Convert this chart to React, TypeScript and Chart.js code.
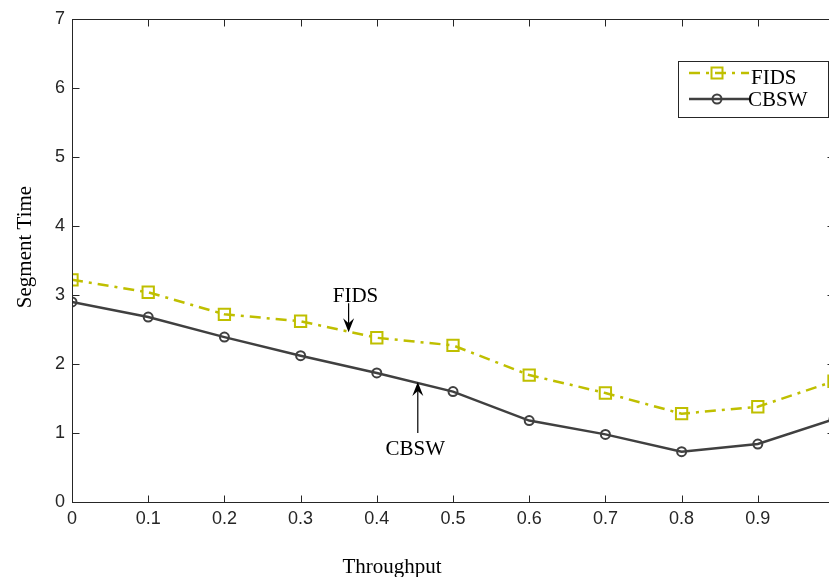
import React, { useEffect, useRef } from "react";
import { Chart, registerables } from "chart.js";

Chart.register(...registerables);

// ---- data ----
const throughput = [0, 0.1, 0.2, 0.3, 0.4, 0.5, 0.6, 0.7, 0.8, 0.9, 1.0];
const fidsTime = [3.22, 3.04, 2.72, 2.62, 2.38, 2.27, 1.84, 1.58, 1.28, 1.38, 1.75];
const cbswTime = [2.9, 2.68, 2.39, 2.12, 1.87, 1.6, 1.18, 0.98, 0.73, 0.84, 1.2];
const seriesLabels = ["FIDS", "CBSW"];
const xTitle = "Throughput";
const yTitle = "Segment Time";

const FIDS_COLOR = "#bfbf00";
const CBSW_COLOR = "#404040";
const AXIS_COLOR = "#262626";
const FIDS_DASH = [11, 6, 3, 6];

const serif = "'Liberation Serif', 'Times New Roman', serif";
const sans = "'Liberation Sans', Arial, sans-serif";

function drawArrow(ctx: CanvasRenderingContext2D, x: number, y0: number, y1: number) {
  const dir = y1 > y0 ? 1 : -1;
  const headLen = 14;
  const notch = 9;
  const half = 5.5;
  ctx.save();
  ctx.strokeStyle = "#000";
  ctx.fillStyle = "#000";
  ctx.lineWidth = 1.2;
  ctx.beginPath();
  ctx.moveTo(x, y0);
  ctx.lineTo(x, y1 - dir * notch);
  ctx.stroke();
  ctx.beginPath();
  ctx.moveTo(x, y1);
  ctx.lineTo(x - half, y1 - dir * headLen);
  ctx.lineTo(x, y1 - dir * notch);
  ctx.lineTo(x + half, y1 - dir * headLen);
  ctx.closePath();
  ctx.fill();
  ctx.restore();
}

const decorPlugin = {
  id: "decor",
  afterDatasetsDraw(chart: any) {
    const ctx: CanvasRenderingContext2D = chart.ctx;
    const { left, right, top, bottom } = chart.chartArea;
    const xs = chart.scales.x;
    const ys = chart.scales.y;
    const L = Math.round(left) + 0.5;
    const R = Math.round(right) + 0.5;
    const T = Math.round(top) + 0.5;
    const B = Math.round(bottom) + 0.5;
    ctx.save();
    ctx.strokeStyle = AXIS_COLOR;
    ctx.lineWidth = 1;
    ctx.setLineDash([]);
    ctx.strokeRect(L, T, R - L, B - T);
    const tl = 7;
    ctx.beginPath();
    xs.ticks.forEach((t: any) => {
      const px = Math.round(xs.getPixelForValue(t.value)) + 0.5;
      ctx.moveTo(px, B);
      ctx.lineTo(px, B - tl);
      ctx.moveTo(px, T);
      ctx.lineTo(px, T + tl);
    });
    ys.ticks.forEach((t: any) => {
      const py = Math.round(ys.getPixelForValue(t.value)) + 0.5;
      ctx.moveTo(L, py);
      ctx.lineTo(L + tl, py);
      ctx.moveTo(R, py);
      ctx.lineTo(R - tl, py);
    });
    ctx.stroke();

    // axis titles
    ctx.fillStyle = "#000";
    ctx.font = `21px ${serif}`;
    ctx.textAlign = "center";
    ctx.textBaseline = "alphabetic";
    ctx.fillText(xTitle, 392, 573);
    ctx.save();
    ctx.translate(31, 247);
    ctx.rotate(-Math.PI / 2);
    ctx.fillText(yTitle, 0, 0);
    ctx.restore();

    // annotations (data coordinates)
    ctx.textAlign = "center";
    ctx.fillText(seriesLabels[0], xs.getPixelForValue(0.372), ys.getPixelForValue(2.9));
    drawArrow(ctx, xs.getPixelForValue(0.363), ys.getPixelForValue(2.88), ys.getPixelForValue(2.46));
    ctx.fillText(seriesLabels[1], xs.getPixelForValue(0.4505), ys.getPixelForValue(0.68));
    drawArrow(ctx, xs.getPixelForValue(0.4538), ys.getPixelForValue(1.0), ys.getPixelForValue(1.74));

    // legend
    const bx = 678.5, by = 61.5, bw = 150, bh = 56;
    ctx.fillStyle = "#fff";
    ctx.fillRect(bx, by, bw, bh);
    ctx.strokeStyle = AXIS_COLOR;
    ctx.lineWidth = 1;
    ctx.strokeRect(bx, by, bw, bh);
    const sx0 = 689, sx1 = 749, mx = 717;
    const fy = 73;
    ctx.strokeStyle = FIDS_COLOR;
    ctx.lineWidth = 2.5;
    ctx.setLineDash(FIDS_DASH);
    ctx.beginPath();
    ctx.moveTo(sx0, fy);
    ctx.lineTo(sx1, fy);
    ctx.stroke();
    ctx.setLineDash([]);
    ctx.lineWidth = 2;
    ctx.strokeRect(mx - 5.5, fy - 5.5, 11, 11);
    const cy = 99;
    ctx.strokeStyle = CBSW_COLOR;
    ctx.lineWidth = 2.5;
    ctx.beginPath();
    ctx.moveTo(sx0, cy);
    ctx.lineTo(sx1, cy);
    ctx.stroke();
    ctx.lineWidth = 2;
    ctx.beginPath();
    ctx.arc(mx, cy, 4.5, 0, Math.PI * 2);
    ctx.stroke();
    ctx.fillStyle = "#000";
    ctx.font = `21px ${serif}`;
    ctx.textAlign = "left";
    ctx.fillText(seriesLabels[0], 751, 84);
    ctx.fillText(seriesLabels[1], 748, 106);
    ctx.restore();
  },
};

export default function App() {
  const ref = useRef<HTMLCanvasElement | null>(null);
  useEffect(() => {
    if (!ref.current) return;
    const chart = new Chart(ref.current, {
      type: "line",
      data: {
        datasets: [
          {
            label: seriesLabels[0],
            data: throughput.map((x, i) => ({ x, y: fidsTime[i] })),
            borderColor: FIDS_COLOR,
            borderWidth: 2.5,
            borderDash: FIDS_DASH,
            pointStyle: "rect",
            pointRadius: 8,
            pointBorderWidth: 2,
            pointBorderColor: FIDS_COLOR,
            pointBackgroundColor: "rgba(0,0,0,0)",
            tension: 0,
            fill: false,
          },
          {
            label: seriesLabels[1],
            data: throughput.map((x, i) => ({ x, y: cbswTime[i] })),
            borderColor: CBSW_COLOR,
            borderWidth: 2.5,
            pointStyle: "circle",
            pointRadius: 4.5,
            pointBorderWidth: 2,
            pointBorderColor: CBSW_COLOR,
            pointBackgroundColor: "rgba(0,0,0,0)",
            tension: 0,
            fill: false,
          },
        ],
      },
      options: {
        animation: false,
        responsive: false,
        maintainAspectRatio: false,
        devicePixelRatio: 1,
        layout: { padding: { top: 19, right: 16, left: 0, bottom: 0 } },
        plugins: {
          legend: { display: false },
          tooltip: { enabled: false },
          title: { display: false },
        },
        scales: {
          x: {
            type: "linear",
            min: 0,
            max: 1,
            grid: { display: false, drawTicks: false },
            border: { display: false },
            ticks: {
              stepSize: 0.1,
              autoSkip: false,
              maxRotation: 0,
              padding: 6,
              color: AXIS_COLOR,
              font: { family: sans, size: 18 },
              callback: (v: any) => String(Number(Number(v).toFixed(1))),
            },
            afterFit: (s: any) => {
              s.height = 75;
            },
          },
          y: {
            type: "linear",
            min: 0,
            max: 7,
            grid: { display: false, drawTicks: false },
            border: { display: false },
            ticks: {
              stepSize: 1,
              padding: 7,
              color: AXIS_COLOR,
              font: { family: sans, size: 18 },
            },
            afterFit: (s: any) => {
              s.width = 72;
            },
          },
        },
      },
      plugins: [decorPlugin],
    });
    return () => chart.destroy();
  }, []);
  return (
    <div
      style={{
        position: "fixed",
        left: 0,
        top: 0,
        width: 829,
        height: 577,
        overflow: "hidden",
        background: "#fff",
      }}
    >
      <canvas ref={ref} width={850} height={577} style={{ display: "block", width: 850, height: 577 }} />
    </div>
  );
}
